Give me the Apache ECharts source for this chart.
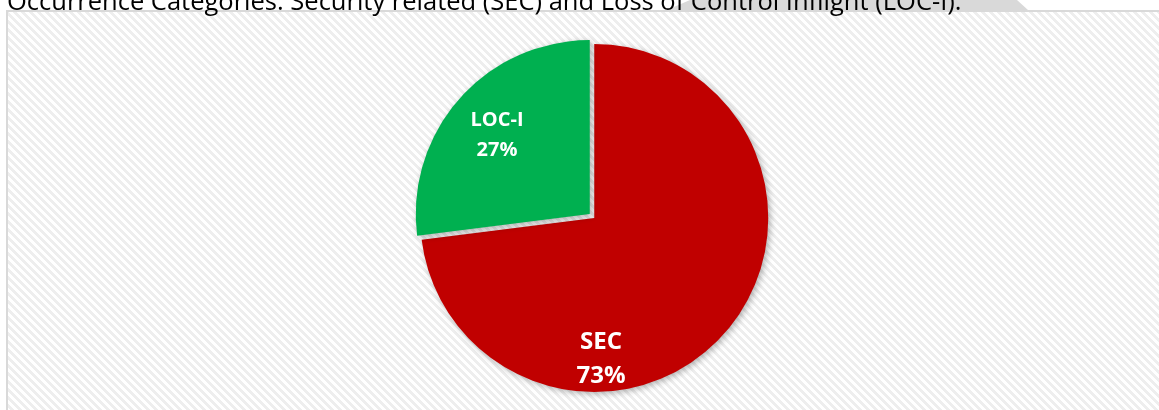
<!DOCTYPE html>
<html>
<head>
<meta charset="utf-8">
<script src="https://cdn.jsdelivr.net/npm/echarts@6/dist/echarts.min.js"></script>
<style>
  html, body { margin: 0; padding: 0; background: #fff; }
  .mainBox { position: relative; width: 1159px; height: 410px; overflow: hidden; }
  .frame {
    position: absolute; left: 6px; top: 10px; width: 1200px; height: 500px;
    border: 2px solid #d9d9d9; box-sizing: border-box;
    background: repeating-linear-gradient(45deg, #ffffff 0px, #ffffff 2.8px, #eeeeee 2.8px, #eeeeee 5.66px);
  }
  #myChart { position: absolute; left: 0; top: 0; width: 1159px; height: 410px; }
</style>
</head>
<body>
<div class="mainBox">
  <div class="frame"></div>
  <div id="myChart"></div>
</div>
<script>
// data
const categories = ["SEC", "LOC-I"];
const shares = [73, 27];
const sliceColors = ["#C00000", "#00B050"];
const captionText = "Occurrence Categories: Security related (SEC) and Loss of Control Inflight (LOC-I).";

// where each slice label sits (layout, not data)
const labelPos = [
  { x: 601, y: 359, fontSize: 24, lineHeight: 34 },
  { x: 497, y: 135, fontSize: 20, lineHeight: 30 }
];

let myChart = echarts.init(document.getElementById("myChart"), null, { renderer: "canvas" });

const total = shares.reduce((a, b) => a + b, 0);
// slice labels as text elements, text comes from the data arrays
const sliceLabels = categories.map((name, i) => ({
  type: "text",
  z: 10,
  x: labelPos[i].x,
  y: labelPos[i].y,
  silent: true,
  style: {
    text: name + "\n" + Math.round((shares[i] / total) * 100) + "%",
    fontFamily: "Open Sans",
    fontWeight: "bold",
    fontSize: labelPos[i].fontSize,
    lineHeight: labelPos[i].lineHeight,
    fill: "#fff",
    align: "center",
    verticalAlign: "middle"
  }
}));

var option = {
  backgroundColor: "transparent",
  animation: false,
  graphic: [
    {
      // grey watermark piece behind the caption
      type: "polygon",
      z: 0,
      silent: true,
      shape: { points: [[690, 0], [1017, 0], [1028, 10], [667, 10]] },
      style: { fill: "#d9d9d9" }
    },
    {
      type: "text",
      z: 1,
      left: 7,
      top: -10,
      silent: true,
      style: {
        text: captionText,
        font: "25.5px 'Open Sans'",
        fill: "#000"
      }
    }
  ].concat(sliceLabels),
  series: [
    {
      type: "pie",
      center: [592, 216],
      radius: 174,
      startAngle: 90,
      clockwise: true,
      selectedMode: "multiple",
      selectedOffset: 3,
      label: { show: false },
      labelLine: { show: false },
      emphasis: { disabled: true },
      select: { itemStyle: { borderWidth: 0 } },
      itemStyle: {
        borderWidth: 0,
        shadowBlur: 6,
        shadowOffsetX: 2,
        shadowOffsetY: 2,
        shadowColor: "rgba(0,0,0,0.3)"
      },
      data: categories.map((name, i) => ({
        name: name,
        value: shares[i],
        selected: true,
        itemStyle: { color: sliceColors[i] }
      }))
    }
  ]
};

myChart.setOption(option);
</script>
</body>
</html>
